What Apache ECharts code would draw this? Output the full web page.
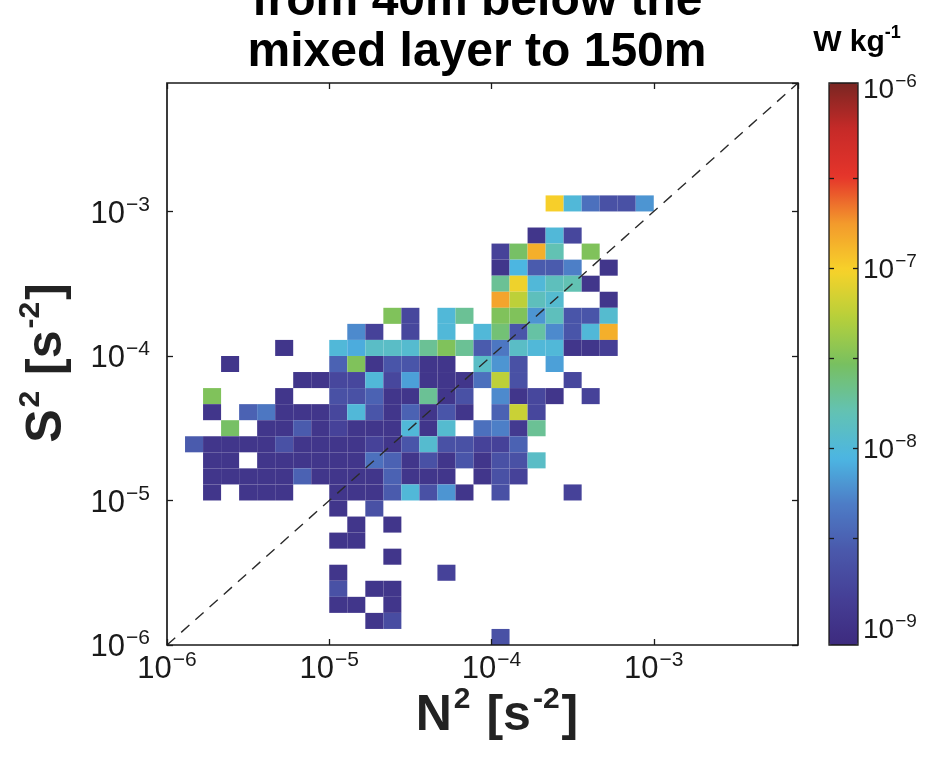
<!DOCTYPE html>
<html>
<head>
<meta charset="utf-8">
<script src="https://cdn.jsdelivr.net/npm/echarts@6/dist/echarts.min.js"></script>
<style>
html, body { margin: 0; padding: 0; background: #fff; }
#chart { width: 935px; height: 765px; }
</style>
</head>
<body>
<div id="chart"></div>
<script>
// Histogram bins in log10 space: nine bins per decade on both axes.
const BIN = 1 / 9;
const N2_LOG_MIN = -6;             // first N² bin edge (log10 s^-2)
const S2_LOG_MIN = -6;             // first S² bin edge (log10 s^-2)
const AXIS_LOG_MAX = -6 + 35 / 9;  // upper end of both axes
const decadeTicks = [-6, -5, -4, -3];

// Colour scale limits and ticks, log10(W kg^-1)
const epsRange = [-9.094, -5.972];
const epsLabelTicks = [-9, -8, -7, -6];
const epsMinorTicks = [-8.5, -8, -7.5, -7, -6.5];

// Bin-averaged dissipation rate, log10(W kg^-1).
// Each row: [S² bin index, first N² bin index, values...]; null = empty bin.
const _ = null;
const epsRows = [
  [27, 21, [-7.0, -8.0, -8.4, -8.65, -8.65, -8.2]],
  [25, 20, [-8.95, -8.0, -8.75]],
  [24, 18, [-8.8, -7.55, -6.85, -7.8, _, -7.5]],
  [23, 18, [-8.95, -8.05, -8.55, -8.55, -8.3, _, -8.95]],
  [22, 18, [-7.7, -7.05, -8.0, -7.85, -7.8, -8.95]],
  [21, 18, [-6.8, -7.25, -7.85, -7.95, _, _, -8.95]],
  [20, 12, [-7.5, -8.75, _, -8.0, -7.7, _, -7.5, -7.5, -8.2, -7.85, -8.6, -8.6, -7.95]],
  [19, 10, [-8.25, -8.8, _, -8.75, _, -8.0, _, -8.0, -7.6, -8.6, -7.75, -8.25, -8.6, -8.0, -6.85]],
  [18, 6, [-8.95, _, _, -8.0, -8.1, -7.9, -7.9, -7.95, -7.7, -7.5, -7.7, -8.55, -8.35, -7.9, -8.0, -8.0, -8.95, -8.95, -8.85]],
  [17, 3, [-8.95, _, _, _, _, _, -8.5, -7.5, -8.95, -8.6, -8.6, -8.95, -8.95, _, -7.9, -8.2, -8.65, _, -8.15]],
  [16, 7, [-8.95, -8.95, -8.75, -8.75, -8.0, -8.75, -8.15, -8.95, -8.95, -8.95, -8.4, -7.25, -8.65, _, _, -8.75]],
  [15, 2, [-7.5, _, _, _, -8.95, _, _, -8.65, -8.65, -8.5, -8.95, -8.95, -7.7, -8.95, -8.65, _, -8.25, -8.95, -8.75, -8.95, _, -8.8]],
  [14, 2, [-8.95, _, -8.5, -8.35, -8.95, -8.95, -8.95, -8.75, -8.0, -8.6, -8.95, -8.5, -8.95, -8.6, -8.95, _, -8.5, -7.2, -8.75]],
  [13, 3, [-7.55, _, -8.95, -8.95, -8.55, -8.95, -8.8, -8.95, -8.95, -8.95, -8.0, -8.95, -7.95, _, -8.4, -8.3, -8.9, -7.7]],
  [12, 1, [-8.55, -8.95, -8.95, -8.95, -8.95, -8.65, -8.95, -8.95, -8.95, -8.95, -8.8, -8.95, -8.6, -7.95, -8.65, -8.65, -8.8, -8.8, -8.5]],
  [11, 2, [-8.95, -8.95, _, -8.95, -8.95, -8.95, -8.95, -8.95, -8.95, -8.4, -8.5, -8.95, -8.65, -8.95, -8.6, -8.95, -8.65, -8.65, -7.9]],
  [10, 2, [-8.95, -8.95, -8.95, -8.95, -8.95, -8.5, -8.95, -8.95, -8.95, -8.95, -8.5, -8.95, -8.95, -8.95, _, -8.95, -8.65, -8.8]],
  [9, 2, [-8.95, _, -8.95, -8.95, -8.95, _, _, -8.95, -8.95, -8.95, -8.55, -8.0, -8.65, -8.2, -8.95, _, -8.65, _, _, _, -8.8]],
  [8, 9, [-8.95, _, -8.65]],
  [7, 10, [-8.95, _, -8.95]],
  [6, 9, [-8.95, -8.95]],
  [5, 12, [-8.95]],
  [4, 9, [-8.95, _, _, _, _, _, -8.8]],
  [3, 9, [-8.65, _, -8.95, -8.95]],
  [2, 9, [-8.95, -8.95, _, -8.95]],
  [1, 11, [-8.95, -8.7]],
  [0, 18, [-8.65]]
];

// 1:1 reference line N² = S²
const diagonal = [[-6, -6], [AXIS_LOG_MAX, AXIS_LOG_MAX]];

// Colour scale, evenly spaced from the low to the high end of epsRange
const epsColors = [
  '#3d2a7e', '#453f96', '#4a58ab', '#4d7cc6', '#4cb6e2', '#63c2b2',
  '#78c060', '#b7d03a', '#f7d22a', '#f39a2c', '#e5352b', '#c72a28', '#7a2622'
];

// Flatten rows into [N² bin lower edge, S² bin lower edge, log10 eps]
const cells = [];
epsRows.forEach(([sBin, nStart, vals]) => {
  vals.forEach((v, k) => {
    if (v !== null) {
      cells.push([N2_LOG_MIN + (nStart + k) * BIN, S2_LOG_MIN + sBin * BIN, v]);
    }
  });
});

const FONT = 'Liberation Sans, Arial, Helvetica, sans-serif';
const isWhole = v => Math.abs(v - Math.round(v)) < 1e-6;
const powLabel = v => isWhole(v) ? '{b|10}{s|\u2212' + Math.abs(Math.round(v)) + '}' : '';

const tickRich = {
  b: { fontFamily: FONT, fontSize: 31, color: '#1a1a1a', verticalAlign: 'bottom', lineHeight: 36 },
  s: { fontFamily: FONT, fontSize: 21, color: '#1a1a1a', verticalAlign: 'top', lineHeight: 36, padding: [1, 0, 0, 1] }
};
const cbRich = {
  b: { fontFamily: FONT, fontSize: 28, color: '#1a1a1a', verticalAlign: 'bottom', lineHeight: 33 },
  s: { fontFamily: FONT, fontSize: 19, color: '#1a1a1a', verticalAlign: 'top', lineHeight: 33, padding: [1, 0, 0, 1] }
};
// Bold axis titles with superscripts
const nameRich = {
  b: { fontFamily: FONT, fontWeight: 'bold', fontSize: 50, fill: '#222', verticalAlign: 'bottom', lineHeight: 56 },
  s: { fontFamily: FONT, fontWeight: 'bold', fontSize: 30, fill: '#222', verticalAlign: 'top', lineHeight: 56, padding: [0, 2, 0, 2] }
};

const mainAxisBase = {
  type: 'value',
  gridIndex: 0,
  min: -6,
  max: AXIS_LOG_MAX,
  interval: 1,
  axisLine: { show: false },
  splitLine: { show: false },
  axisTick: { inside: true, length: 6, lineStyle: { color: '#1a1a1a', width: 1.3 } },
  z: 4
};

const cbAxisBase = {
  type: 'value',
  gridIndex: 1,
  min: epsRange[0],
  max: epsRange[1],
  axisLine: { show: false },
  splitLine: { show: false },
  axisTick: { inside: true, length: 5, customValues: epsMinorTicks, lineStyle: { color: '#1a1a1a', width: 1.3 } },
  z: 6
};

const chart = echarts.init(document.getElementById('chart'), null, { renderer: 'canvas' });

chart.setOption({
  backgroundColor: '#ffffff',
  animation: false,
  grid: [
    { left: 167, top: 83, width: 631, height: 562, show: true, borderColor: '#1a1a1a', borderWidth: 1.7, backgroundColor: 'transparent', z: 4 },
    { left: 829, top: 83, width: 29, height: 562, show: true, borderColor: '#1a1a1a', borderWidth: 1.3, backgroundColor: 'transparent', z: 6 }
  ],
  xAxis: [
    Object.assign({}, mainAxisBase, {
      position: 'bottom',
      axisLabel: { formatter: powLabel, rich: tickRich, margin: 4, showMaxLabel: false }
    }),
    Object.assign({}, mainAxisBase, { position: 'top', axisLabel: { show: false } }),
    { type: 'value', gridIndex: 1, min: 0, max: 1, show: false }
  ],
  yAxis: [
    Object.assign({}, mainAxisBase, {
      position: 'left',
      axisLabel: { formatter: powLabel, rich: tickRich, margin: 17, showMaxLabel: false }
    }),
    Object.assign({}, mainAxisBase, { position: 'right', axisLabel: { show: false } }),
    Object.assign({}, cbAxisBase, { position: 'left', axisLabel: { show: false } }),
    Object.assign({}, cbAxisBase, {
      position: 'right',
      axisLabel: { customValues: epsLabelTicks, formatter: powLabel, rich: cbRich, margin: 5 }
    })
  ],
  visualMap: {
    type: 'continuous',
    show: true,
    seriesIndex: 0,
    dimension: 2,
    min: epsRange[0],
    max: epsRange[1],
    calculable: false,
    orient: 'vertical',
    left: 829,
    top: 83,
    padding: 0,
    itemWidth: 29,
    itemHeight: 562,
    text: null,
    inRange: { color: epsColors }
  },
  series: [
    {
      type: 'custom',
      xAxisIndex: 0,
      yAxisIndex: 0,
      data: cells,
      z: 1,
      clip: true,
      renderItem(params, api) {
        const x0 = api.value(0);
        const y0 = api.value(1);
        const p0 = api.coord([x0, y0]);
        const p1 = api.coord([x0 + BIN, y0 + BIN]);
        return {
          type: 'rect',
          shape: { x: p0[0], y: p1[1], width: p1[0] - p0[0], height: p0[1] - p1[1] },
          style: { fill: api.visual('color') }
        };
      }
    },
    {
      type: 'line',
      xAxisIndex: 0,
      yAxisIndex: 0,
      data: diagonal,
      symbol: 'none',
      silent: true,
      z: 3,
      lineStyle: { color: '#2a2a2a', width: 1.4, type: [11, 8] }
    }
  ],
  graphic: [
    {
      type: 'text', x: 477, y: 2, silent: true,
      style: { text: 'from 40m below the', font: 'bold 48px ' + FONT, fill: '#000', align: 'center', verticalAlign: 'middle' }
    },
    {
      type: 'text', x: 477, y: 53, silent: true,
      style: { text: 'mixed layer to 150m', font: 'bold 48px ' + FONT, fill: '#000', align: 'center', verticalAlign: 'middle' }
    },
    {
      type: 'text', x: 857, y: 41, silent: true,
      style: {
        text: '{b|W kg}{s|-1}', align: 'center', verticalAlign: 'middle',
        rich: {
          b: { fontFamily: FONT, fontWeight: 'bold', fontSize: 30, fill: '#000', verticalAlign: 'bottom', lineHeight: 34 },
          s: { fontFamily: FONT, fontWeight: 'bold', fontSize: 18, fill: '#000', verticalAlign: 'top', lineHeight: 34 }
        }
      }
    },
    {
      type: 'text', x: 497, y: 713, silent: true,
      style: { text: '{b|N}{s|2}{b| [s}{s|-2}{b|]}', align: 'center', verticalAlign: 'middle', rich: nameRich }
    },
    {
      type: 'text', x: 44, y: 363, rotation: Math.PI / 2, silent: true,
      style: { text: '{b|S}{s|2}{b| [s}{s|-2}{b|]}', align: 'center', verticalAlign: 'middle', rich: nameRich }
    }
  ]
});
</script>
</body>
</html>
